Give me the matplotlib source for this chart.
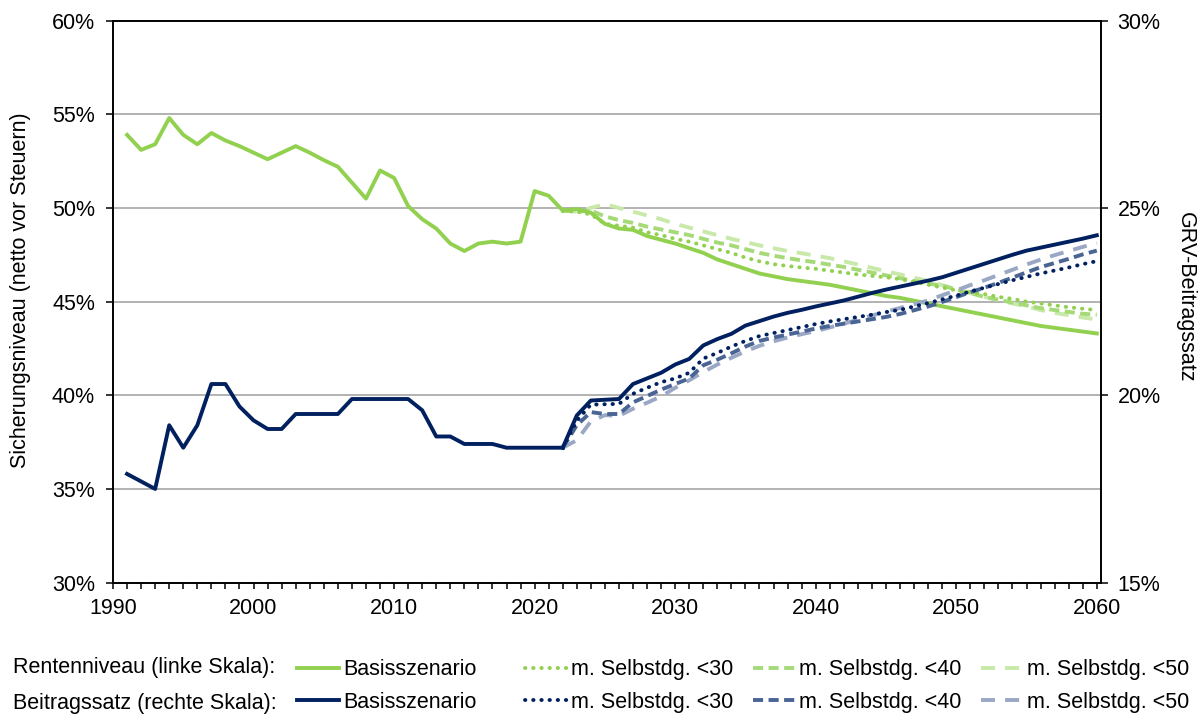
import numpy as np
import matplotlib
matplotlib.use("Agg")
import matplotlib.pyplot as plt
from matplotlib.ticker import MultipleLocator, FuncFormatter

plt.rcParams['font.family'] = ['Liberation Sans', 'DejaVu Sans']

# --- data ---
years_hist = list(range(1991, 2023))
years_proj = list(range(2022, 2061))

# Rentenniveau, left scale (%)
renten_hist = [53.9, 53.1, 53.4, 54.8, 53.9, 53.4, 54.0, 53.6, 53.3, 52.95,
               52.6, 52.95, 53.3, 52.95, 52.55, 52.2, 51.35, 50.5, 52.0, 51.6,
               50.1, 49.4, 48.9, 48.1, 47.7, 48.1, 48.2, 48.1, 48.2, 50.9,
               50.65, 49.86]
renten_base = [49.86, 49.94, 49.75, 49.15, 48.9, 48.83, 48.5, 48.3, 48.1, 47.85,
               47.6, 47.25, 47.0, 46.75, 46.5, 46.35, 46.2, 46.1, 46.0, 45.9,
               45.75, 45.6, 45.45, 45.3, 45.2, 45.05, 44.9, 44.75, 44.6, 44.45,
               44.3, 44.15, 44.0, 43.85, 43.7, 43.6, 43.5, 43.4, 43.3]
renten_30 = [49.86, 49.8, 49.65, 49.15, 49.05, 48.95, 48.7, 48.55, 48.35, 48.2,
             48.0, 47.8, 47.6, 47.35, 47.15, 47.0, 46.9, 46.82, 46.75, 46.65,
             46.55, 46.45, 46.37, 46.3, 46.2, 46.05, 45.9, 45.75, 45.6, 45.5,
             45.4, 45.25, 45.15, 45.0, 44.9, 44.8, 44.7, 44.62, 44.55]
renten_40 = [49.86, 49.8, 49.86, 49.55, 49.35, 49.2, 49.0, 48.85, 48.7, 48.55,
             48.35, 48.15, 48.0, 47.8, 47.6, 47.45, 47.32, 47.2, 47.1, 46.97,
             46.85, 46.7, 46.55, 46.4, 46.25, 46.1, 45.97, 45.85, 45.65, 45.45,
             45.25, 45.1, 44.95, 44.8, 44.65, 44.55, 44.45, 44.35, 44.3]
renten_50 = [49.86, 49.8, 50.0, 50.2, 50.0, 49.8, 49.6, 49.4, 49.15, 48.95,
             48.75, 48.55, 48.35, 48.18, 48.0, 47.85, 47.7, 47.58, 47.45, 47.32,
             47.15, 46.98, 46.8, 46.62, 46.45, 46.28, 46.1, 45.88, 45.65, 45.45,
             45.25, 45.08, 44.9, 44.75, 44.55, 44.4, 44.28, 44.15, 44.05]

# Beitragssatz, right scale (%)
beitrag_hist = [17.9, 17.7, 17.5, 19.2, 18.6, 19.2, 20.3, 20.3, 19.7, 19.33,
                19.1, 19.1, 19.5, 19.5, 19.5, 19.5, 19.9, 19.9, 19.9, 19.9,
                19.9, 19.6, 18.9, 18.9, 18.7, 18.7, 18.7, 18.6, 18.6, 18.6,
                18.6, 18.6]
beitrag_base = [18.6, 19.46, 19.86, 19.88, 19.9, 20.3, 20.45, 20.6, 20.82, 20.97,
                21.33, 21.5, 21.64, 21.86, 21.98, 22.1, 22.2, 22.28, 22.37, 22.45,
                22.53, 22.63, 22.73, 22.82, 22.9, 22.98, 23.06, 23.15, 23.27, 23.39,
                23.51, 23.63, 23.75, 23.86, 23.94, 24.02, 24.1, 24.18, 24.27]
beitrag_30 = [18.6, 19.32, 19.75, 19.76, 19.77, 20.04, 20.2, 20.35, 20.45, 20.6,
              20.98, 21.13, 21.3, 21.45, 21.58, 21.66, 21.74, 21.82, 21.9, 21.97,
              22.03, 22.09, 22.15, 22.22, 22.28, 22.37, 22.46, 22.56, 22.66, 22.77,
              22.87, 22.97, 23.07, 23.16, 23.25, 23.33, 23.41, 23.5, 23.58]
beitrag_40 = [18.6, 19.2, 19.55, 19.5, 19.5, 19.81, 19.98, 20.15, 20.3, 20.45,
              20.8, 20.95, 21.12, 21.3, 21.45, 21.54, 21.62, 21.7, 21.78, 21.85,
              21.91, 21.97, 22.03, 22.09, 22.17, 22.27, 22.37, 22.49, 22.62, 22.75,
              22.87, 23.0, 23.14, 23.28, 23.42, 23.53, 23.64, 23.76, 23.86]
beitrag_50 = [18.6, 18.8, 19.3, 19.47, 19.45, 19.64, 19.8, 19.97, 20.2, 20.4,
              20.62, 20.82, 21.0, 21.17, 21.32, 21.44, 21.54, 21.63, 21.71, 21.81,
              21.91, 22.02, 22.13, 22.23, 22.33, 22.43, 22.53, 22.67, 22.8, 22.94,
              23.07, 23.21, 23.35, 23.49, 23.62, 23.74, 23.85, 23.96, 24.06]

labels = ['Basisszenario', 'm. Selbstdg. <30', 'm. Selbstdg. <40', 'm. Selbstdg. <50']

green = ['#92D050', '#92D050', '#A6DA78', '#C8E9AA']
navy = ['#002060', '#002060', '#4A6594', '#9AA8C5']
styles = ['-', (0, (0.1, 2.0)), (0, (2.6, 1.4)), (0, (3.6, 2.6))]

FS = 15.5
LW = 2.8

fig = plt.figure(figsize=(12.03, 7.19), dpi=100)
ax = fig.add_axes([113 / 1203, 1 - 582.6 / 719, 988 / 1203, 562 / 719])
ax2 = ax.twinx()

renten_series = [renten_base, renten_30, renten_40, renten_50]
beitrag_series = [beitrag_base, beitrag_30, beitrag_40, beitrag_50]

# draw in reverse so the base line sits on top
for i in [3, 2, 1]:
    ax.plot(years_proj, renten_series[i], color=green[i], lw=LW, ls=styles[i],
            dash_capstyle='round' if i == 1 else 'butt', zorder=3)
ax.plot(years_hist, renten_hist, color=green[0], lw=LW, solid_joinstyle='round', zorder=4)
ax.plot(years_proj, renten_base, color=green[0], lw=LW, solid_joinstyle='round', zorder=4)

for i in [3, 2, 1]:
    ax2.plot(years_proj, beitrag_series[i], color=navy[i], lw=LW, ls=styles[i],
             dash_capstyle='round' if i == 1 else 'butt', zorder=3)
ax2.plot(years_hist, beitrag_hist, color=navy[0], lw=LW, solid_joinstyle='round', zorder=4)
ax2.plot(years_proj, beitrag_base, color=navy[0], lw=LW, solid_joinstyle='round', zorder=4)

# axes
ax.set_xlim(1990, 2060.3)
ax.set_ylim(30, 60)
ax2.set_ylim(15, 30)
ax.xaxis.set_major_locator(MultipleLocator(10))
ax.xaxis.set_minor_locator(MultipleLocator(1))
ax.yaxis.set_major_locator(MultipleLocator(5))
ax2.yaxis.set_major_locator(MultipleLocator(5))
pct = FuncFormatter(lambda v, p: f"{v:.0f}%")
ax.yaxis.set_major_formatter(pct)
ax2.yaxis.set_major_formatter(pct)

ax.grid(axis='y', color='#A6A6A6', lw=1.2, zorder=0)
ax.set_axisbelow(True)

for a in (ax, ax2):
    for s in a.spines.values():
        s.set_color('black')
        s.set_linewidth(1.2)

ax.tick_params(axis='x', which='both', direction='out', length=4.5, width=1.1,
               labelsize=FS, pad=6.5, top=False)
ax.tick_params(axis='y', direction='out', length=5, width=1.1, labelsize=FS, pad=8)
ax2.tick_params(axis='y', direction='out', length=5, width=1.1, labelsize=FS, pad=7)

ax.set_ylabel('Sicherungsniveau (netto vor Steuern)', fontsize=FS)
ax.yaxis.set_label_coords(-0.083, 0.52)
ax2.set_ylabel('GRV-Beitragssatz', fontsize=FS, rotation=270, va='bottom')
ax2.yaxis.set_label_coords(1.075, 0.507)

# legend, built as four columns with two rows each
fig.text(13 / 1203, 1 - 668 / 719, 'Rentenniveau (linke Skala):', fontsize=FS, va='center')
fig.text(13 / 1203, 1 - 704 / 719, 'Beitragssatz (rechte Skala):', fontsize=FS, va='center')

col_x = [297, 525, 753, 981]
for i in range(4):
    hg = plt.Line2D([], [], color=green[i], lw=LW, ls=styles[i],
                    dash_capstyle='round' if i == 1 else 'butt')
    hn = plt.Line2D([], [], color=navy[i], lw=LW, ls=styles[i],
                    dash_capstyle='round' if i == 1 else 'butt')
    leg = fig.legend([hg, hn], [labels[i], labels[i]], loc='center left',
                     bbox_to_anchor=(col_x[i] / 1203, 1 - 686 / 719),
                     frameon=False, fontsize=FS, handlelength=1.95,
                     handletextpad=0.2, borderpad=0, borderaxespad=0,
                     labelspacing=0.55)

fig.savefig('out.png', dpi=100)
